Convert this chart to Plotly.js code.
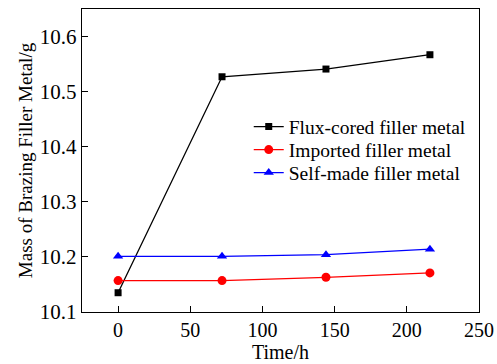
<!DOCTYPE html>
<html>
<head>
<meta charset="utf-8">
<script src="https://cdn.plot.ly/plotly-3.0.1.min.js"></script>
<style>html,body{margin:0;padding:0;background:#fff;}#chart{width:497px;height:364px;}</style>
</head>
<body>
<div id="chart"></div>
<script>
const timeH = [0, 72, 144, 216];
const fluxCored = [10.135, 10.527, 10.541, 10.567];
const imported = [10.157, 10.157, 10.163, 10.171];
const selfMade = [10.201, 10.201, 10.204, 10.214];
const seriesNames = ['Flux-cored filler metal', 'Imported filler metal', 'Self-made filler metal'];
const xTicks = [0, 50, 100, 150, 200, 250];
const yTicks = [10.1, 10.2, 10.3, 10.4, 10.5, 10.6];
const yTickText = ['10.1', '10.2', '10.3', '10.4', '10.5', '10.6'];

const fam = 'Liberation Serif';
const traces = [
  {x: timeH, y: fluxCored, name: seriesNames[0], mode: 'lines+markers', legend: 'legend',
   line: {color: '#000000', width: 1.3}, marker: {symbol: 'square', size: 7, color: '#000000'}},
  {x: timeH, y: imported, name: seriesNames[1], mode: 'lines+markers', legend: 'legend2',
   line: {color: '#ff0000', width: 1.3}, marker: {symbol: 'circle', size: 9, color: '#ff0000'}},
  {x: timeH, y: selfMade, name: seriesNames[2], mode: 'lines+markers', legend: 'legend3',
   line: {color: '#0000ff', width: 1.3}, marker: {symbol: 'triangle-up', size: 9, color: '#0000ff'}}
];
function leg(y) {
  return {x: 0.42, y: y, xanchor: 'left', yanchor: 'middle', bgcolor: 'rgba(0,0,0,0)',
          font: {family: fam, size: 19.5, color: '#000'}, itemwidth: 30};
}
const layout = {
  width: 497, height: 364,
  margin: {l: 82, r: 18, t: 9, b: 52},
  paper_bgcolor: '#fff', plot_bgcolor: '#fff',
  font: {family: fam, size: 18, color: '#000'},
  showlegend: true,
  legend: leg(0.611),
  legend2: leg(0.535),
  legend3: leg(0.459),
  xaxis: {range: [-25, 250], tickvals: xTicks, ticks: 'inside', ticklen: 6, tickcolor: '#000',
          showline: true, linecolor: '#000', linewidth: 1.3, mirror: true, showgrid: false, zeroline: false,
          tickfont: {family: fam, size: 20, color: '#000'},
          title: {text: 'Time/h', font: {family: fam, size: 20, color: '#000'}, standoff: 2}},
  yaxis: {range: [10.1, 10.65], tickvals: yTicks, ticktext: yTickText,
          ticks: 'inside', ticklen: 6, tickcolor: '#000',
          showline: true, linecolor: '#000', linewidth: 1.3, mirror: true, showgrid: false, zeroline: false,
          tickfont: {family: fam, size: 21, color: '#000'},
          title: {text: 'Mass of Brazing Filler Metal/g', font: {family: fam, size: 19, color: '#000'}, standoff: 2}}
};
Plotly.newPlot('chart', traces, layout, {displayModeBar: false, staticPlot: true});
</script>
</body>
</html>
